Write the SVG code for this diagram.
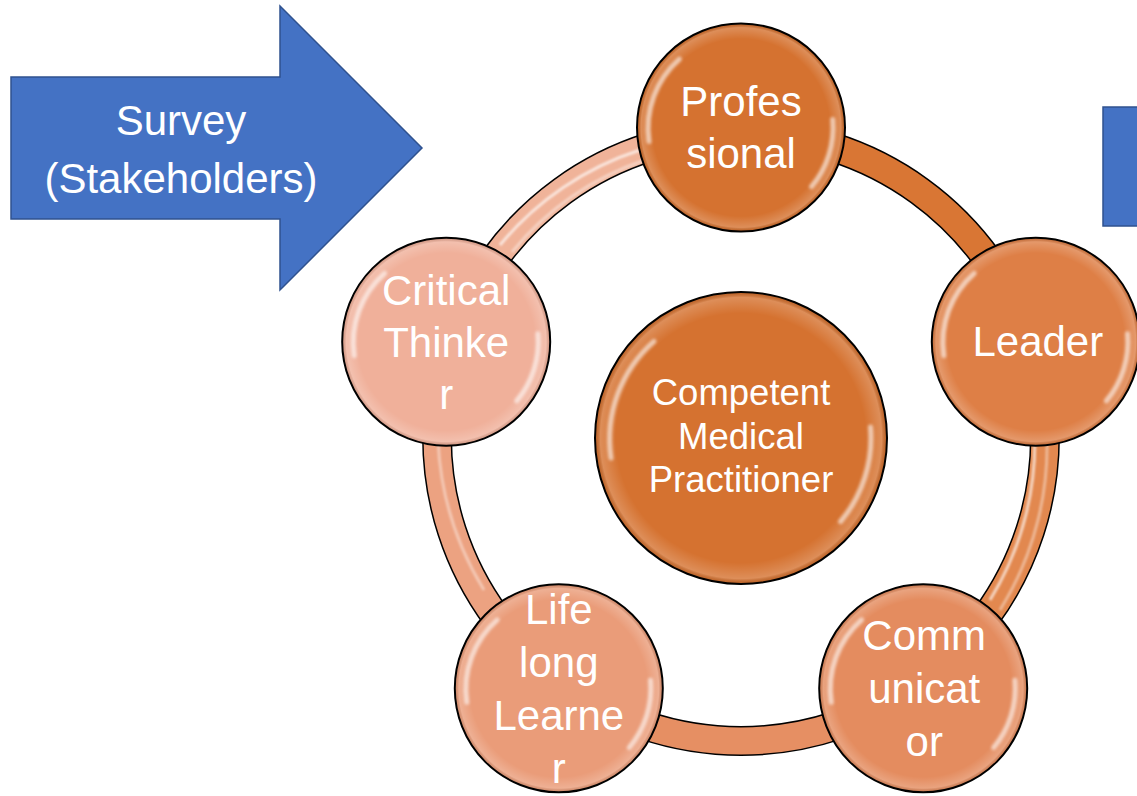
<svg xmlns="http://www.w3.org/2000/svg" width="1137" height="796" viewBox="0 0 1137 796">
<defs>
<style>
.lbl{font-family:"Liberation Sans",Arial,sans-serif;font-size:42px;fill:#ffffff;text-anchor:middle}
.ctr{font-family:"Liberation Sans",Arial,sans-serif;font-size:36.5px;fill:#ffffff;text-anchor:middle}
.blue{fill:#4472C4;stroke:#2F528F;stroke-width:1.5}
.node{stroke:#000000;stroke-width:2}
.hl{fill:none;stroke:#ffffff;stroke-width:5;stroke-linecap:round;opacity:0.6;filter:url(#soft2)}
.bandout{fill:none;stroke:#000000;stroke-width:30}
.band{fill:none;stroke-width:27}
.gloss{fill:none;stroke:#ffffff;stroke-width:3;opacity:0.65;filter:url(#soft)}
</style>
<filter id="soft" x="-20%" y="-20%" width="140%" height="140%"><feGaussianBlur stdDeviation="1.2"/></filter>
<filter id="soft2" x="-30%" y="-30%" width="160%" height="160%"><feGaussianBlur stdDeviation="1.8"/></filter>
<radialGradient id="rim" cx="0.5" cy="0.5" r="0.5">
<stop offset="0.86" stop-color="#ffffff" stop-opacity="0"/>
<stop offset="0.97" stop-color="#ffffff" stop-opacity="0.2"/>
<stop offset="1" stop-color="#000000" stop-opacity="0.1"/>
</radialGradient>
</defs>
<rect width="1137" height="796" fill="#ffffff"/>

<g id="survey-arrow">
<polygon class="blue" points="11,77 280,77 280,6 422,148 280,290 280,219 11,219"/>
<text class="lbl" x="181" y="135">Survey</text>
<text class="lbl" x="181" y="193">(Stakeholders)</text>
</g>

<g id="right-box">
<rect class="blue" x="1103" y="107" width="40" height="119"/>
</g>

<g id="connectors">
<path class="bandout" d="M 741 133 A 304 304 0 0 1 1030.1 343.1"/>
<path class="band" stroke="#D97634" d="M 741 133 A 304 304 0 0 1 1030.1 343.1"/>
<path class="bandout" d="M 1030.1 343.1 A 304 304 0 0 1 919.7 682.9"/>
<path class="band" stroke="#E2884F" d="M 1030.1 343.1 A 304 304 0 0 1 919.7 682.9"/>
<path class="gloss" d="M 1034 420 A 300 300 0 0 1 990 600"/>
<path class="gloss" style="opacity:0.4" d="M 1046 420 A 310 310 0 0 1 1000 610"/>
<path class="bandout" d="M 919.7 682.9 A 304 304 0 0 1 562.3 682.9"/>
<path class="band" stroke="#E68F63" d="M 919.7 682.9 A 304 304 0 0 1 562.3 682.9"/>
<path class="bandout" d="M 562.3 682.9 A 304 304 0 0 1 451.9 343.1"/>
<path class="band" stroke="#ECA281" d="M 562.3 682.9 A 304 304 0 0 1 451.9 343.1"/>
<path class="gloss" style="opacity:0.4" d="M 484 590 A 312 312 0 0 1 438 440"/>
<path class="bandout" d="M 451.9 343.1 A 304 304 0 0 1 741 133"/>
<path class="band" stroke="#F0B399" d="M 451.9 343.1 A 304 304 0 0 1 741 133"/>
<path class="gloss" d="M 500 245 A 302 302 0 0 1 640 150"/>
<path class="gloss" style="opacity:0.4" d="M 512 252 A 294 294 0 0 1 645 160"/>
</g>

<g id="node-professional" transform="translate(741,127.5)">
<circle class="node" r="104" fill="#D57230"/>
<circle r="103" fill="url(#rim)"/>
<path class="hl" d="M -92 14 A 92 92 0 0 1 -61.6 -68.4"/>
<path class="hl" d="M 91.7 -8 A 92 92 0 0 1 70.5 59.2"/>
<text class="lbl" x="0" y="-12">Profes</text>
<text class="lbl" x="0" y="40.5">sional</text>
</g>

<g id="node-leader" transform="translate(1035.8,341.7)">
<circle class="node" r="104" fill="#DE7F46"/>
<circle r="103" fill="url(#rim)"/>
<path class="hl" d="M -92 14 A 92 92 0 0 1 -61.6 -68.4"/>
<path class="hl" d="M 91.7 -8 A 92 92 0 0 1 70.5 59.2"/>
<text class="lbl" x="2" y="14.5">Leader</text>
</g>

<g id="node-communicator" transform="translate(923.2,688.3)">
<circle class="node" r="104" fill="#E48C5F"/>
<circle r="103" fill="url(#rim)"/>
<path class="hl" d="M -92 14 A 92 92 0 0 1 -61.6 -68.4"/>
<path class="hl" d="M 91.7 -8 A 92 92 0 0 1 70.5 59.2"/>
<text class="lbl" x="1" y="-38">Comm</text>
<text class="lbl" x="1" y="15">unicat</text>
<text class="lbl" x="1" y="68">or</text>
</g>

<g id="node-lifelong-learner" transform="translate(558.8,688.3)">
<circle class="node" r="104" fill="#EA9C79"/>
<circle r="103" fill="url(#rim)"/>
<path class="hl" d="M -92 14 A 92 92 0 0 1 -61.6 -68.4"/>
<path class="hl" d="M 91.7 -8 A 92 92 0 0 1 70.5 59.2"/>
<text class="lbl" x="0" y="-64.5">Life</text>
<text class="lbl" x="0" y="-11.5">long</text>
<text class="lbl" x="0" y="41.5">Learne</text>
<text class="lbl" x="0" y="94.5">r</text>
</g>

<g id="node-critical-thinker" transform="translate(446.2,341.7)">
<circle class="node" r="104" fill="#F0B09A"/>
<circle r="103" fill="url(#rim)"/>
<path class="hl" d="M -92 14 A 92 92 0 0 1 -61.6 -68.4"/>
<path class="hl" d="M 91.7 -8 A 92 92 0 0 1 70.5 59.2"/>
<text class="lbl" x="0" y="-37">Critical</text>
<text class="lbl" x="0" y="15">Thinke</text>
<text class="lbl" x="0" y="67">r</text>
</g>

<g id="node-center" transform="translate(741,438)">
<circle class="node" r="146" fill="#D57230"/>
<circle r="145" fill="url(#rim)"/>
<path class="hl" d="M -130 20 A 130 130 0 0 1 -87 -96.6"/>
<path class="hl" d="M 129.5 -11 A 130 130 0 0 1 99.6 83.6"/>
<text class="ctr" x="0" y="-33">Competent</text>
<text class="ctr" x="0" y="10.5">Medical</text>
<text class="ctr" x="0" y="54">Practitioner</text>
</g>
</svg>
